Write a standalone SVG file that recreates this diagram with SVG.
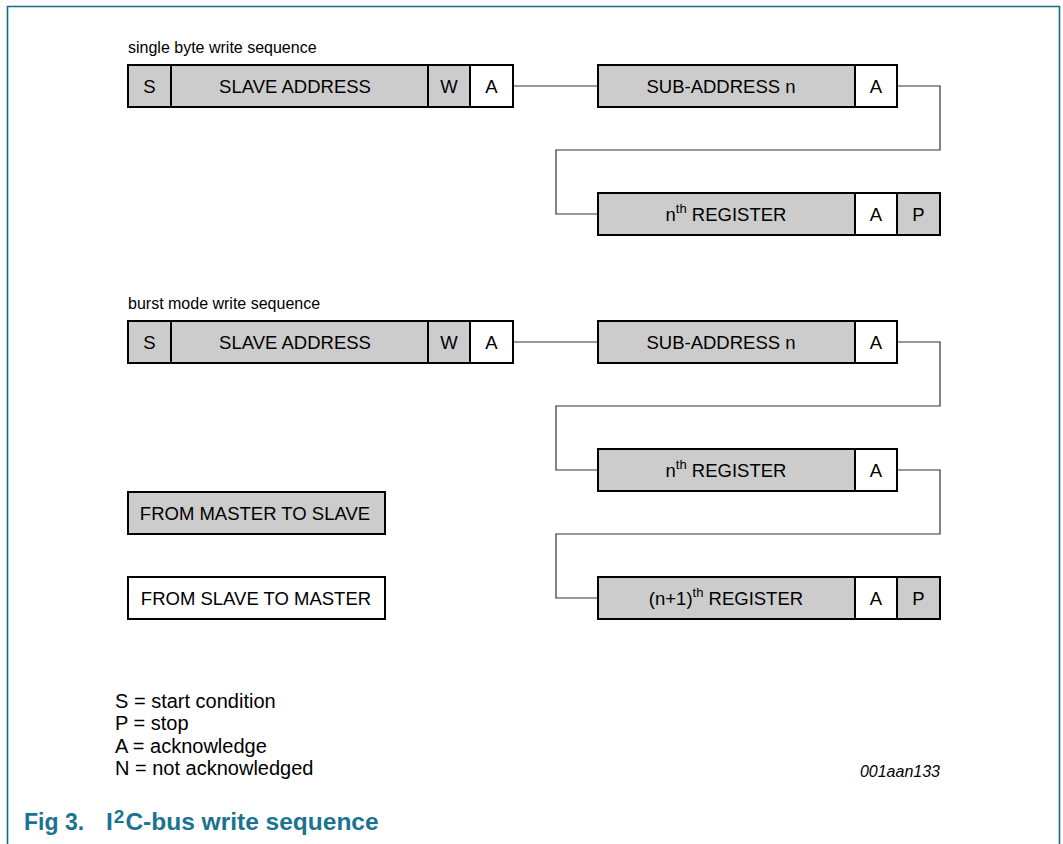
<svg xmlns="http://www.w3.org/2000/svg" width="1063" height="844" viewBox="0 0 1063 844">
<style>
.g{fill:#cccccc;stroke:#000;stroke-width:2}
.w{fill:#fff;stroke:#000;stroke-width:2}
.t{font-family:"Liberation Sans",Arial,sans-serif;font-size:18.5px;fill:#000;text-anchor:middle}
.s{font-family:"Liberation Sans",Arial,sans-serif;font-size:16px;fill:#000}
.l{font-family:"Liberation Sans",Arial,sans-serif;font-size:20px;fill:#000}
.c{fill:none;stroke:#333;stroke-width:1.2}
.h{font-family:"Liberation Sans",Arial,sans-serif;font-size:24px;font-weight:bold;fill:#1a7391}
</style>
<rect width="1063" height="844" fill="#fff"/>
<path d="M7.5,844 V6.5 H1059.5 V844" fill="none" stroke="#0e6d88" stroke-width="1.6"/>
<text class="s" x="128" y="53">single byte write sequence</text>
<text class="s" x="128" y="309">burst mode write sequence</text>
<g id="connectors">
<path class="c" d="M513,86 H598"/>
<path class="c" d="M897,86 H940 V150 H556 V214 H598"/>
<path class="c" d="M513,342 H598"/>
<path class="c" d="M897,342 H940 V406 H556 V470 H598"/>
<path class="c" d="M897,470 H940 V534 H556 V598 H598"/>
</g>
<g id="row1-slave">
<rect class="g" x="128" y="65" width="43" height="42"/><text class="t" x="149.5" y="93">S</text>
<rect class="g" x="171" y="65" width="257" height="42"/><text class="t" x="295" y="93">SLAVE ADDRESS</text>
<rect class="g" x="428" y="65" width="42" height="42"/><text class="t" x="449" y="93">W</text>
<rect class="w" x="470" y="65" width="43" height="42"/><text class="t" x="491.5" y="93">A</text>
</g>
<g id="row1-sub">
<rect class="g" x="598" y="65" width="257" height="42"/><text class="t" x="721" y="93">SUB-ADDRESS n</text>
<rect class="w" x="855" y="65" width="42" height="42"/><text class="t" x="876" y="93">A</text>
</g>
<g id="row1-reg">
<rect class="g" x="598" y="193" width="257" height="42"/><text class="t" x="726" y="221">n<tspan dy="-8" font-size="13">th</tspan><tspan dy="8"> REGISTER</tspan></text>
<rect class="w" x="855" y="193" width="42" height="42"/><text class="t" x="876" y="221">A</text>
<rect class="g" x="897" y="193" width="43" height="42"/><text class="t" x="918.5" y="221">P</text>
</g>
<g id="row2-slave">
<rect class="g" x="128" y="321" width="43" height="42"/><text class="t" x="149.5" y="349">S</text>
<rect class="g" x="171" y="321" width="257" height="42"/><text class="t" x="295" y="349">SLAVE ADDRESS</text>
<rect class="g" x="428" y="321" width="42" height="42"/><text class="t" x="449" y="349">W</text>
<rect class="w" x="470" y="321" width="43" height="42"/><text class="t" x="491.5" y="349">A</text>
</g>
<g id="row2-sub">
<rect class="g" x="598" y="321" width="257" height="42"/><text class="t" x="721" y="349">SUB-ADDRESS n</text>
<rect class="w" x="855" y="321" width="42" height="42"/><text class="t" x="876" y="349">A</text>
</g>
<g id="row2-reg">
<rect class="g" x="598" y="449" width="257" height="42"/><text class="t" x="726" y="477">n<tspan dy="-8" font-size="13">th</tspan><tspan dy="8"> REGISTER</tspan></text>
<rect class="w" x="855" y="449" width="42" height="42"/><text class="t" x="876" y="477">A</text>
</g>
<g id="row2-reg2">
<rect class="g" x="598" y="577" width="257" height="42"/><text class="t" x="726" y="605">(n+1)<tspan dy="-8" font-size="13">th</tspan><tspan dy="8"> REGISTER</tspan></text>
<rect class="w" x="855" y="577" width="42" height="42"/><text class="t" x="876" y="605">A</text>
<rect class="g" x="897" y="577" width="43" height="42"/><text class="t" x="918.5" y="605">P</text>
</g>
<g id="legend-master">
<rect class="g" x="128" y="492" width="257" height="42"/><text class="t" x="255" y="520">FROM MASTER TO SLAVE</text>
</g>
<g id="legend-slave">
<rect class="w" x="128" y="577" width="257" height="42"/><text class="t" x="256" y="605">FROM SLAVE TO MASTER</text>
</g>
<g id="key">
<text class="l" x="115" y="708">S = start condition</text>
<text class="l" x="115" y="730">P = stop</text>
<text class="l" x="115" y="753">A = acknowledge</text>
<text class="l" x="115" y="775">N = not acknowledged</text>
</g>
<text x="940" y="777" text-anchor="end" style="font-family:'Liberation Sans',Arial,sans-serif;font-size:16px;font-style:italic;fill:#000">001aan133</text>
<text class="h" x="24" y="830" style="font-size:23px">Fig 3.</text>
<text class="h" x="106" y="830" style="font-size:24.5px">I<tspan dx="1" dy="-7" font-size="19">2</tspan><tspan dx="1" dy="7">C-bus write sequence</tspan></text>
</svg>
